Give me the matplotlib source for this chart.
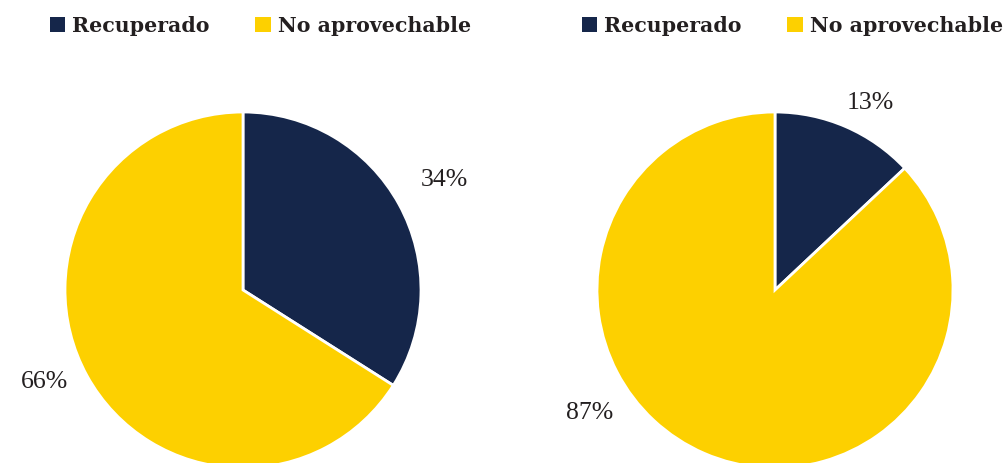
import matplotlib
matplotlib.use("Agg")
import matplotlib.pyplot as plt
from matplotlib.patches import Patch

categories = ["Recuperado", "No aprovechable"]
left_values = [34, 66]
right_values = [13, 87]
colors = ["#15264a", "#fdd000"]
text_color = "#231f20"

W, H = 1006, 463
fig = plt.figure(figsize=(W / 100, H / 100), dpi=100)
ax = fig.add_axes([0, 0, 1, 1])

pies = [
    dict(values=left_values, center=(243, H - 290),
         label_pos=[(444, H - 180), (45, H - 382)],
         legend_anchor=(50, H - 16)),
    dict(values=right_values, center=(775, H - 290),
         label_pos=[(870, H - 103), (590, H - 413)],
         legend_anchor=(582, H - 16)),
]

legends = []
for p in pies:
    wedges, _ = ax.pie(p["values"], colors=colors, startangle=90, counterclock=False,
                       center=p["center"], radius=178, frame=True,
                       wedgeprops=dict(edgecolor="white", linewidth=2))
    for v, pos in zip(p["values"], p["label_pos"]):
        ax.text(pos[0], pos[1], f"{v}%", ha="center", va="center",
                fontsize=18.5, family="Liberation Serif", color=text_color)
    handles = [Patch(facecolor=c, edgecolor="none") for c in colors]
    leg = ax.legend(handles, categories, ncol=2, loc="upper left",
                    bbox_to_anchor=(p["legend_anchor"][0] / W, p["legend_anchor"][1] / H),
                    frameon=False, borderpad=0, borderaxespad=0,
                    handlelength=0.75, handleheight=0.75, handletextpad=0.34,
                    columnspacing=2.2,
                    prop=dict(family="DejaVu Serif", weight="bold", size=14.8))
    for t in leg.get_texts():
        t.set_color(text_color)
    legends.append(leg)

for leg in legends[:-1]:
    ax.add_artist(leg)

ax.set_xlim(0, W)
ax.set_ylim(0, H)
ax.set_aspect("equal")
ax.axis("off")

fig.savefig("out.png", dpi=100)
